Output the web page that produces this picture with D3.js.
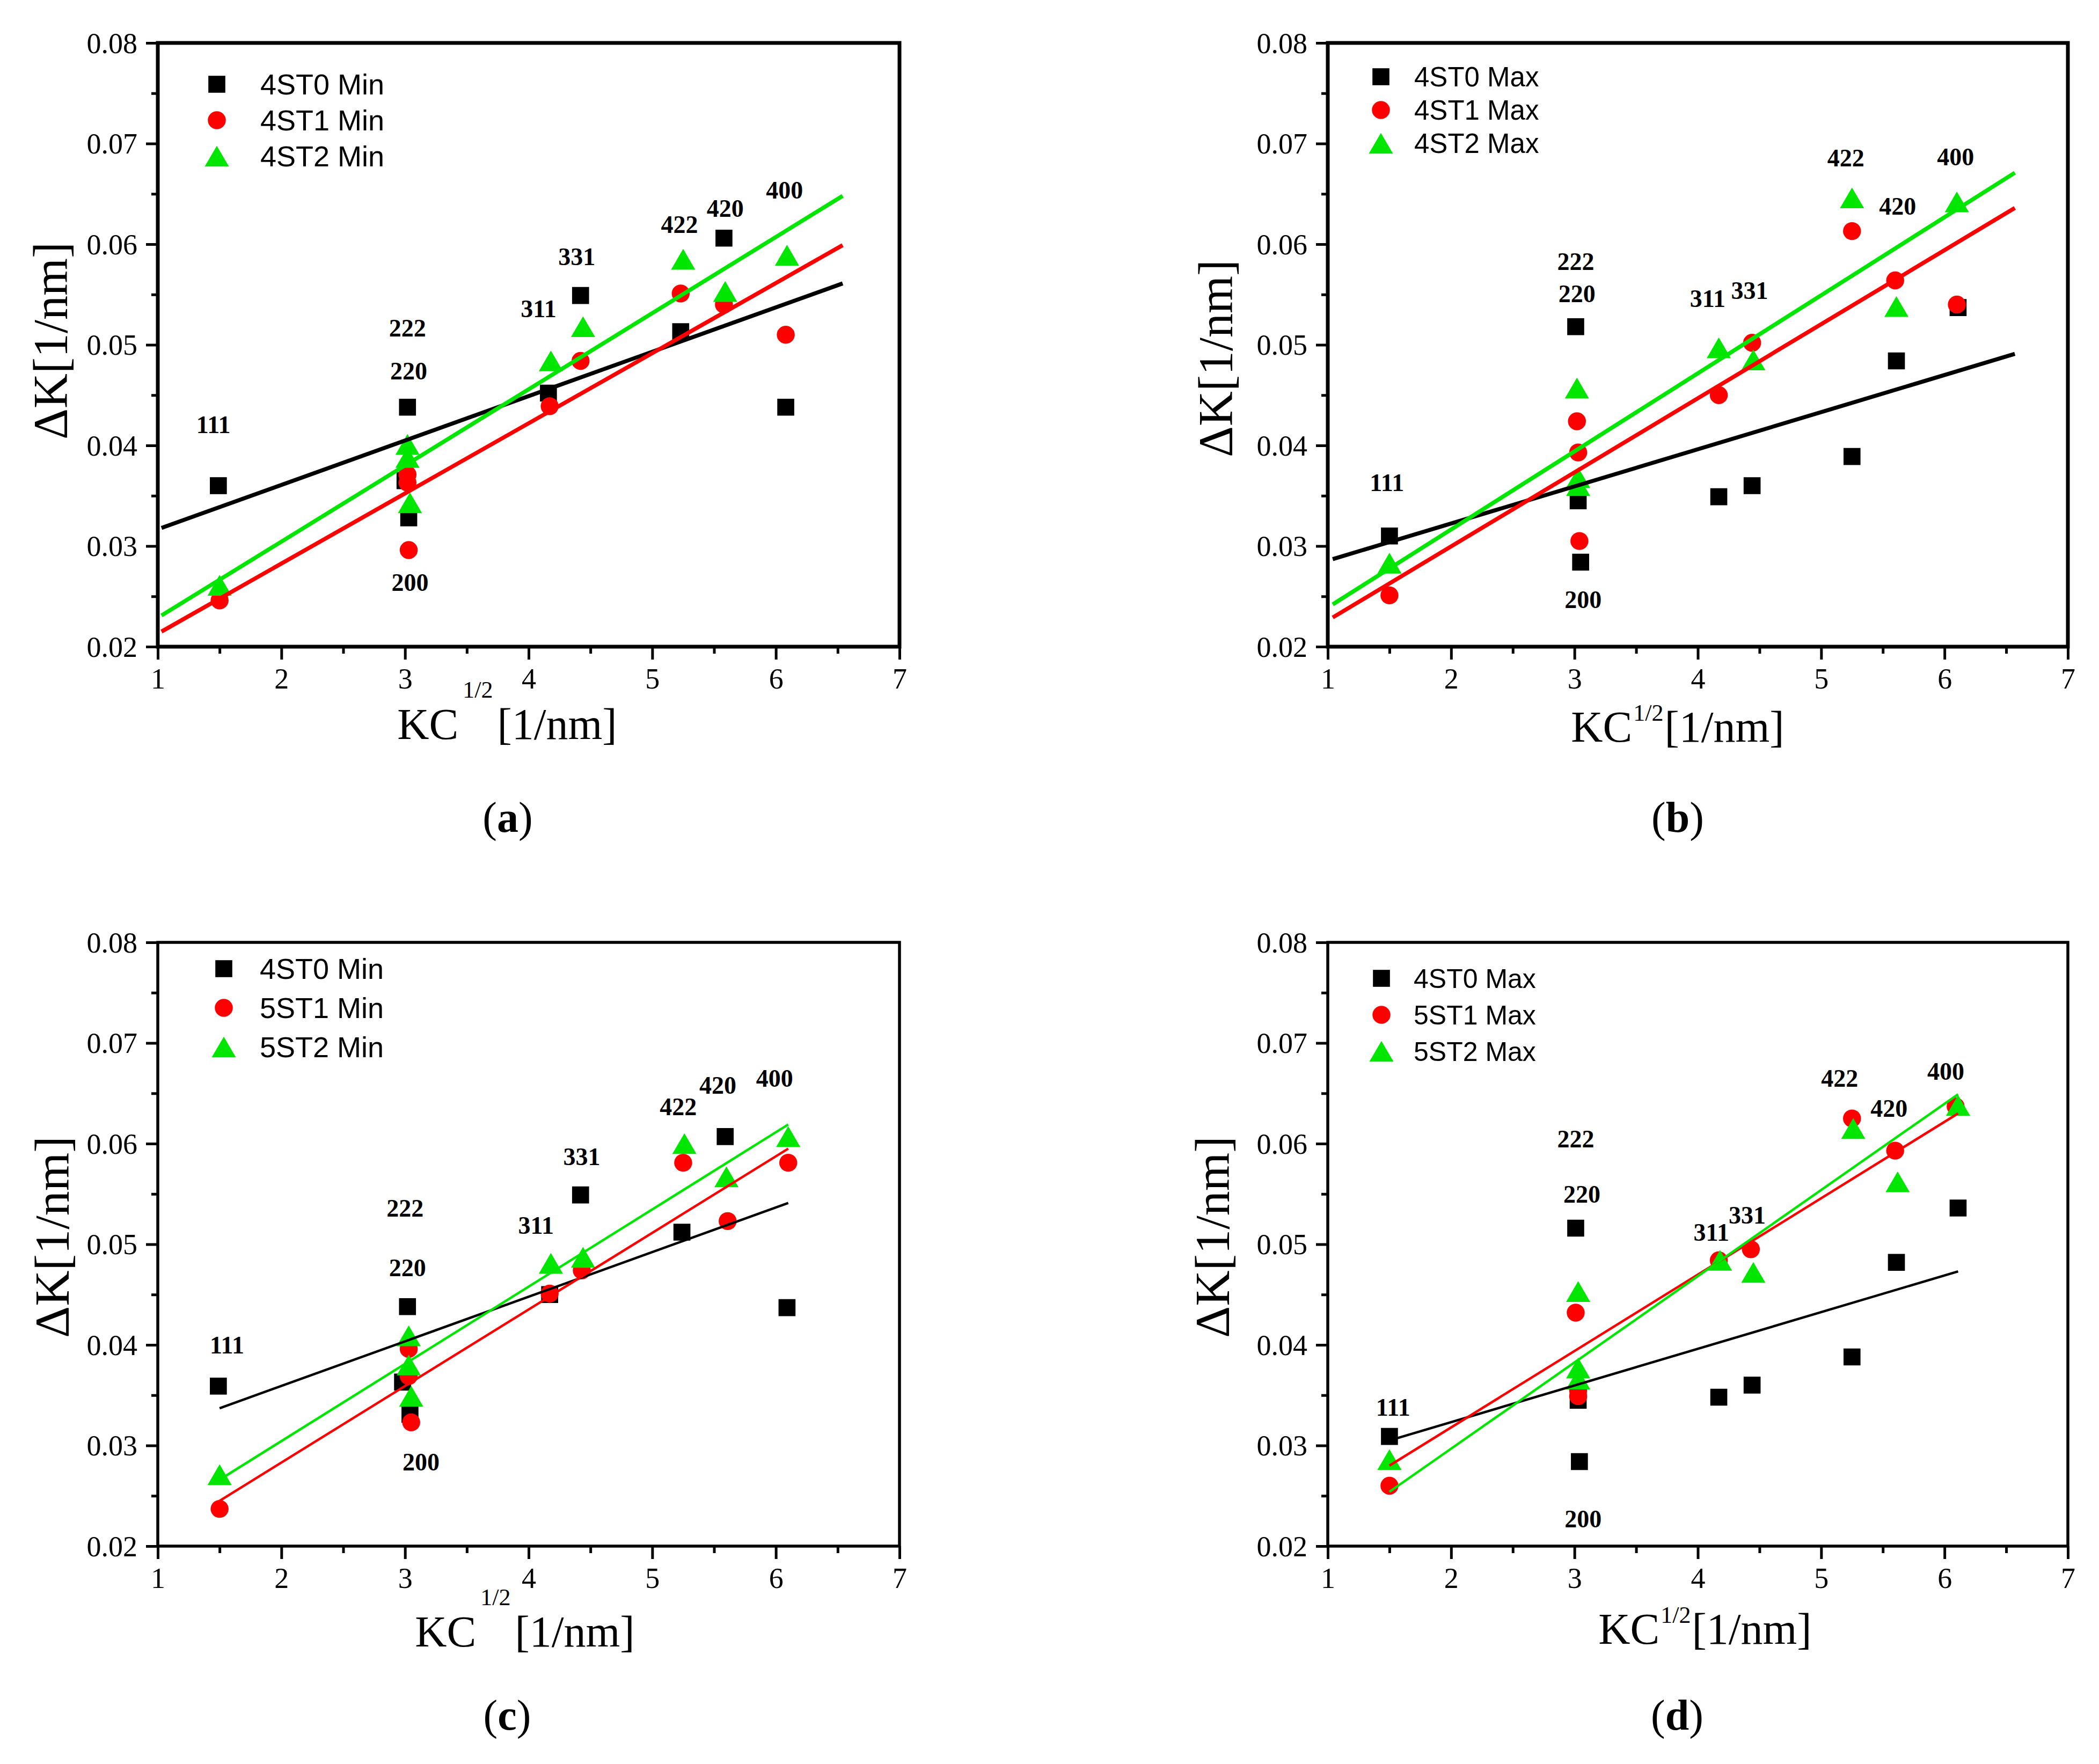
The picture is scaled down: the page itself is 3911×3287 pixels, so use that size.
<!DOCTYPE html>
<html>
<head>
<meta charset="utf-8">
<script src="https://cdn.jsdelivr.net/npm/d3@7"></script>
<style>
body { margin: 0; background: #fff; }
</style>
</head>
<body>
<svg id="chart" width="3911" height="3287"></svg>
<script>
// axis ticks
var xMajor = [1, 2, 3, 4, 5, 6, 7];
var xMinor = [1.5, 2.5, 3.5, 4.5, 5.5, 6.5];
var yMajor = [0.02, 0.03, 0.04, 0.05, 0.06, 0.07, 0.08];
var yMinor = [0.025, 0.035, 0.045, 0.055, 0.065, 0.075];

// reflections, same order in every series
var hkl = ["111", "222", "220", "200", "311", "331", "422", "420", "400"];

// legends
var legendA = ["4ST0 Min", "4ST1 Min", "4ST2 Min"];
var legendB = ["4ST0 Max", "4ST1 Max", "4ST2 Max"];
var legendC = ["4ST0 Min", "5ST1 Min", "5ST2 Min"];
var legendD = ["4ST0 Max", "5ST1 Max", "5ST2 Max"];

// (a) points: 111, 220, 222, 200, 311, 331, 422, 420, 400
var xA0 = [1.49, 3.02, 3.00, 3.03, 4.16, 4.42, 5.23, 5.58, 6.08];
var yA0 = [0.0360, 0.0438, 0.0365, 0.0328, 0.0452, 0.0549, 0.0513, 0.0606, 0.0438];
var xA1 = [1.50, 3.02, 3.02, 3.03, 4.17, 4.42, 5.23, 5.58, 6.08];
var yA1 = [0.0246, 0.0371, 0.0363, 0.0296, 0.0439, 0.0484, 0.0551, 0.0540, 0.0510];
var xA2 = [1.50, 3.02, 3.02, 3.04, 4.18, 4.44, 5.25, 5.59, 6.09];
var yA2 = [0.0261, 0.0401, 0.0388, 0.0343, 0.0484, 0.0518, 0.0585, 0.0553, 0.0589];
var fitXA = [1.03, 6.54];
var fitA0 = [0.0318, 0.0561];
var fitA1 = [0.0215, 0.0599];
var fitA2 = [0.0231, 0.0648];
var lblXA = [1.45, 3.02, 3.03, 3.04, 4.08, 4.39, 5.22, 5.59, 6.07];
var lblYA = [0.0421, 0.0517, 0.0474, 0.0264, 0.0536, 0.0588, 0.0620, 0.0636, 0.0654];

// (b)
var xB0 = [1.50, 3.01, 3.03, 3.05, 4.17, 4.44, 5.25, 5.61, 6.11];
var yB0 = [0.0310, 0.0518, 0.0345, 0.0284, 0.0349, 0.0360, 0.0389, 0.0484, 0.0537];
var xB1 = [1.50, 3.02, 3.03, 3.04, 4.17, 4.44, 5.25, 5.60, 6.10];
var yB1 = [0.0251, 0.0424, 0.0393, 0.0305, 0.0450, 0.0502, 0.0613, 0.0564, 0.0540];
var xB2 = [1.50, 3.02, 3.03, 3.03, 4.17, 4.45, 5.25, 5.61, 6.10];
var yB2 = [0.0283, 0.0457, 0.0368, 0.0360, 0.0497, 0.0485, 0.0646, 0.0538, 0.0642];
var fitXB = [1.04, 6.57];
var fitB0 = [0.0287, 0.0491];
var fitB1 = [0.0229, 0.0636];
var fitB2 = [0.0242, 0.0671];
var lblXB = [1.48, 3.01, 3.02, 3.07, 4.08, 4.42, 5.20, 5.62, 6.09];
var lblYB = [0.0363, 0.0583, 0.0551, 0.0247, 0.0546, 0.0554, 0.0686, 0.0638, 0.0687];

// (c)
var xC0 = [1.49, 3.02, 2.98, 3.04, 4.17, 4.42, 5.24, 5.59, 6.09];
var yC0 = [0.0359, 0.0438, 0.0363, 0.0331, 0.0450, 0.0549, 0.0512, 0.0607, 0.0437];
var xC1 = [1.50, 3.03, 3.03, 3.05, 4.17, 4.43, 5.25, 5.61, 6.10];
var yC1 = [0.0237, 0.0396, 0.0369, 0.0323, 0.0451, 0.0474, 0.0581, 0.0523, 0.0581];
var xC2 = [1.50, 3.03, 3.03, 3.05, 4.18, 4.44, 5.26, 5.60, 6.10];
var yC2 = [0.0271, 0.0409, 0.0380, 0.0349, 0.0481, 0.0487, 0.0600, 0.0567, 0.0607];
var fitXC = [1.50, 6.10];
var fitC0 = [0.0337, 0.0541];
var fitC1 = [0.0245, 0.0595];
var fitC2 = [0.0266, 0.0619];
var lblXC = [1.56, 3.00, 3.02, 3.13, 4.06, 4.43, 5.21, 5.53, 5.99];
var lblYC = [0.0400, 0.0536, 0.0477, 0.0284, 0.0519, 0.0587, 0.0637, 0.0658, 0.0665];

// (d)
var xD0 = [1.50, 3.01, 3.03, 3.04, 4.17, 4.44, 5.25, 5.61, 6.11];
var yD0 = [0.0309, 0.0516, 0.0345, 0.0284, 0.0348, 0.0360, 0.0388, 0.0482, 0.0536];
var xD1 = [1.50, 3.01, 3.03, 3.03, 4.17, 4.43, 5.25, 5.60, 6.09];
var yD1 = [0.0260, 0.0432, 0.0355, 0.0349, 0.0484, 0.0495, 0.0625, 0.0593, 0.0637];
var xD2 = [1.50, 3.03, 3.03, 3.03, 4.18, 4.45, 5.26, 5.62, 6.11];
var yD2 = [0.0286, 0.0453, 0.0377, 0.0366, 0.0484, 0.0472, 0.0615, 0.0562, 0.0638];
var fitXD = [1.50, 6.11];
var fitD0 = [0.0305, 0.0473];
var fitD1 = [0.0280, 0.0630];
var fitD2 = [0.0254, 0.0649];
var lblXD = [1.53, 3.01, 3.06, 3.07, 4.11, 4.40, 5.15, 5.55, 6.01];
var lblYD = [0.0338, 0.0605, 0.0550, 0.0227, 0.0512, 0.0529, 0.0665, 0.0635, 0.0672];

var colors = ["#000000", "#ff0000", "#00e600"];
var serif = "'Liberation Serif', 'Times New Roman', serif";
var sans = "'Liberation Sans', Arial, sans-serif";

// layout of the four panels
var panels = [
  {tag: "a", left: 294, right: 1676, top: 80, bottom: 1205, frameW: 7, lineW: 7.5,
   xs: [xA0, xA1, xA2], ys: [yA0, yA1, yA2], fitX: fitXA, fits: [fitA0, fitA1, fitA2],
   lblX: lblXA, lblY: lblYA, legend: legendA,
   legX: 110, legY: 77, legDy: 67, legText: 81, legFont: 54,
   yTitleX: 125, yTitleY: 635, yTitleFont: 90,
   xTitleX: 945, xTitleY: 1377, supRaise: 77, supGap: 8, panelY: 1550, panelX: 946},
  {tag: "b", left: 2474, right: 3853, top: 80, bottom: 1205, frameW: 7, lineW: 7.5,
   xs: [xB0, xB1, xB2], ys: [yB0, yB1, yB2], fitX: fitXB, fits: [fitB0, fitB1, fitB2],
   lblX: lblXB, lblY: lblYB, legend: legendB,
   legX: 99, legY: 63, legDy: 62, legText: 62, legFont: 51,
   yTitleX: 2296, yTitleY: 668, yTitleFont: 90,
   xTitleX: 3126, xTitleY: 1382, supRaise: 39, supGap: 2, panelY: 1550, panelX: 3126},
  {tag: "c", left: 294, right: 1676, top: 1756, bottom: 2881, frameW: 5.5, lineW: 4.5,
   xs: [xC0, xC1, xC2], ys: [yC0, yC1, yC2], fitX: fitXC, fits: [fitC0, fitC1, fitC2],
   lblX: lblXC, lblY: lblYC, legend: legendC,
   legX: 123, legY: 49, legDy: 73, legText: 67, legFont: 54,
   yTitleX: 128, yTitleY: 2305, yTitleFont: 92,
   xTitleX: 978, xTitleY: 3068, supRaise: 77, supGap: 8, panelY: 3223, panelX: 945},
  {tag: "d", left: 2474, right: 3853, top: 1756, bottom: 2881, frameW: 5.5, lineW: 4.5,
   xs: [xD0, xD1, xD2], ys: [yD0, yD1, yD2], fitX: fitXD, fits: [fitD0, fitD1, fitD2],
   lblX: lblXD, lblY: lblYD, legend: legendD,
   legX: 100, legY: 67, legDy: 68, legText: 60, legFont: 50,
   yTitleX: 2290, yTitleY: 2305, yTitleFont: 92,
   xTitleX: 3177, xTitleY: 3063, supRaise: 39, supGap: 2, panelY: 3223, panelX: 3125}
];

var svg = d3.select("#chart");
svg.append("rect").attr("width", 3911).attr("height", 3287).attr("fill", "#fff");

// triangle sized by its width
var triangleType = {
  draw: function(p, size) {
    var w = Math.sqrt(size);
    p.moveTo(0, -w * 0.43);
    p.lineTo(w * 0.5, w * 0.43);
    p.lineTo(-w * 0.5, w * 0.43);
    p.closePath();
  }
};
var symbols = [
  d3.symbol().type(d3.symbolSquare).size(1000),
  d3.symbol().type(d3.symbolCircle).size(880),
  d3.symbol().type(triangleType).size(2025)
];

panels.forEach(drawPanel);

function drawPanel(p) {
  var x = d3.scaleLinear().domain([1, 7]).range([p.left, p.right]);
  var y = d3.scaleLinear().domain([0.02, 0.08]).range([p.bottom, p.top]);
  var g = svg.append("g").attr("class", "panel-" + p.tag);

  // minor ticks
  g.append("g")
    .attr("transform", "translate(0," + p.bottom + ")")
    .call(d3.axisBottom(x).tickValues(xMinor).tickSize(13).tickFormat(""))
    .call(styleAxis);
  g.append("g")
    .attr("transform", "translate(" + p.left + ",0)")
    .call(d3.axisLeft(y).tickValues(yMinor).tickSize(12).tickFormat(""))
    .call(styleAxis);

  // major ticks with labels
  g.append("g")
    .attr("transform", "translate(0," + p.bottom + ")")
    .call(d3.axisBottom(x).tickValues(xMajor).tickSize(24).tickPadding(16).tickFormat(d3.format("d")))
    .call(styleAxis);
  g.append("g")
    .attr("transform", "translate(" + p.left + ",0)")
    .call(d3.axisLeft(y).tickValues(yMajor).tickSize(22).tickPadding(16).tickFormat(d3.format(".2f")))
    .call(styleAxis)
    .selectAll("text").attr("dy", "0.34em");

  // frame
  g.append("rect")
    .attr("x", x(1)).attr("y", y(0.08))
    .attr("width", x(7) - x(1)).attr("height", y(0.02) - y(0.08))
    .attr("fill", "none").attr("stroke", "#000").attr("stroke-width", p.frameW);

  // scatter points
  p.xs.forEach(function(xs, s) {
    var pts = xs.map(function(v, i) { return [v, p.ys[s][i]]; });
    g.append("g").selectAll("path")
      .data(pts)
      .join("path")
      .attr("d", symbols[s])
      .attr("transform", function(d) { return "translate(" + x(d[0]) + "," + y(d[1]) + ")"; })
      .attr("fill", colors[s]);
  });

  // fit lines
  var line = d3.line().x(function(d) { return x(d[0]); }).y(function(d) { return y(d[1]); });
  p.fits.forEach(function(f, s) {
    g.append("path")
      .datum(p.fitX.map(function(v, i) { return [v, f[i]]; }))
      .attr("d", line)
      .attr("fill", "none")
      .attr("stroke", colors[s])
      .attr("stroke-width", p.lineW);
  });

  // reflection labels
  g.append("g").selectAll("text")
    .data(hkl)
    .join("text")
    .attr("x", function(d, i) { return x(p.lblX[i]); })
    .attr("y", function(d, i) { return y(p.lblY[i]); })
    .attr("dy", "0.35em")
    .attr("text-anchor", "middle")
    .attr("font-family", serif)
    .attr("font-weight", "bold")
    .attr("font-size", 46)
    .text(function(d) { return d; });

  // legend
  var leg = g.append("g").attr("transform", "translate(" + (p.left + p.legX) + "," + (p.top + p.legY) + ")");
  p.legend.forEach(function(name, s) {
    leg.append("path")
      .attr("d", symbols[s])
      .attr("transform", "translate(0," + s * p.legDy + ")")
      .attr("fill", colors[s]);
    leg.append("text")
      .attr("x", p.legText)
      .attr("y", s * p.legDy)
      .attr("dy", "0.36em")
      .attr("font-family", sans)
      .attr("font-size", p.legFont)
      .text(name);
  });

  // y title
  svg.append("text")
    .attr("transform", "translate(" + p.yTitleX + "," + p.yTitleY + ") rotate(-90)")
    .attr("text-anchor", "middle")
    .attr("font-family", serif)
    .attr("font-size", p.yTitleFont)
    .text("\u0394K[1/nm]");

  // x title with raised 1/2
  var xt = svg.append("text")
    .attr("x", p.xTitleX)
    .attr("y", p.xTitleY)
    .attr("text-anchor", "middle")
    .attr("font-family", serif)
    .attr("font-size", 82);
  xt.append("tspan").text("KC");
  xt.append("tspan").attr("dx", p.supGap).attr("dy", -p.supRaise).attr("font-size", 44).text("1/2");
  xt.append("tspan").attr("dx", p.supGap).attr("dy", p.supRaise).text("[1/nm]");

  // panel tag
  var pt = svg.append("text")
    .attr("x", p.panelX)
    .attr("y", p.panelY)
    .attr("text-anchor", "middle")
    .attr("font-family", serif)
    .attr("font-size", 80);
  pt.append("tspan").text("(");
  pt.append("tspan").attr("font-weight", "bold").text(p.tag);
  pt.append("tspan").text(")");
}

function styleAxis(sel) {
  sel.select(".domain").remove();
  sel.attr("font-family", serif).attr("font-size", 54);
  sel.selectAll(".tick line").attr("stroke", "#000").attr("stroke-width", 5);
  sel.selectAll(".tick text").attr("fill", "#000");
}
</script>
</body>
</html>
